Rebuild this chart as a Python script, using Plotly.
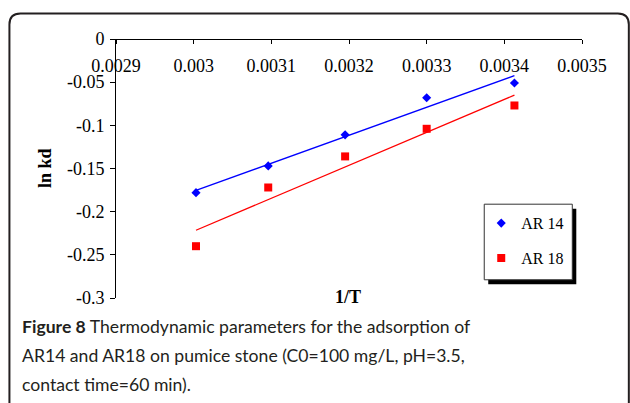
import plotly.graph_objects as go
import numpy as np

# ---------------- data ----------------
inv_T = [0.003003, 0.003096, 0.003195, 0.0033, 0.003413]
ln_kd_ar14 = [-0.178, -0.147, -0.111, -0.068, -0.051]
ln_kd_ar18 = [-0.240, -0.172, -0.136, -0.104, -0.077]
series_names = ["AR 14", "AR 18"]

x_ticks = [0.0029, 0.003, 0.0031, 0.0032, 0.0033, 0.0034, 0.0035]
x_tick_labels = ["0.0029", "0.003", "0.0031", "0.0032", "0.0033", "0.0034", "0.0035"]
y_ticks = [0, -0.05, -0.1, -0.15, -0.2, -0.25, -0.3]
y_tick_labels = ["0", "-0.05", "-0.1", "-0.15", "-0.2", "-0.25", "-0.3"]

caption_lines = [
    "<b>Figure 8</b> Thermodynamic parameters for the adsorption of",
    "AR14 and AR18 on pumice stone (C0=100 mg/L, pH=3.5,",
    "contact time=60 min).",
]

# ---------------- layout geometry (pixels) ----------------
W, H = 630, 403
L, R, T, B = 116, 581.7, 39, 297.7


def px(x):
    return (x - L) / (R - L)


def py(y):
    return (B - y) / (B - T)


serif = "Liberation Serif, Times New Roman, serif"

fig = go.Figure()

colors = ["#0000FF", "#FF0000"]
symbols = ["diamond", "square"]
sizes = [7, 8]
for i, (name, ys) in enumerate(zip(series_names, [ln_kd_ar14, ln_kd_ar18])):
    fig.add_trace(go.Scatter(
        x=inv_T, y=ys, mode="markers", name=name,
        legendgroup=name,
        marker=dict(color=colors[i], symbol=symbols[i], size=sizes[i],
                    line=dict(width=0)),
    ))
    slope, icpt = np.polyfit(inv_T, ys, 1)
    xl = [min(inv_T), max(inv_T)]
    fig.add_trace(go.Scatter(
        x=xl, y=[slope * v + icpt for v in xl], mode="lines",
        line=dict(color=colors[i], width=1.3), showlegend=False,
        hoverinfo="skip",
    ))

# outer rounded border
x0, y0, x1, y1, r = 9.5, 13.5, 628.5, 430, 11
path = (f"M {px(x0)},{py(y1)} L {px(x0)},{py(y0 + r)} "
        f"Q {px(x0)},{py(y0)} {px(x0 + r)},{py(y0)} "
        f"L {px(x1 - r)},{py(y0)} Q {px(x1)},{py(y0)} {px(x1)},{py(y0 + r)} "
        f"L {px(x1)},{py(y1)}")

shapes = [
    dict(type="path", xref="paper", yref="paper", path=path,
         line=dict(color="#231f20", width=2)),
    # legend shadow
    dict(type="rect", xref="paper", yref="paper",
         x0=px(488), x1=px(576), y0=py(208.5), y1=py(284),
         fillcolor="black", line=dict(width=0), layer="above"),
    # legend box
    dict(type="rect", xref="paper", yref="paper",
         x0=px(484), x1=px(572), y0=py(204), y1=py(279.5),
         fillcolor="white", line=dict(color="#333333", width=1), layer="above"),
]

annotations = [
    dict(text="<b>ln kd</b>", xref="paper", yref="paper", x=px(45), y=py(168),
         xanchor="center", yanchor="middle",
         showarrow=False, textangle=-90, font=dict(family=serif, size=18, color="black")),
    dict(text="<b>1/T</b>", xref="paper", yref="paper", x=px(348), y=py(297),
         xanchor="center", yanchor="middle",
         showarrow=False, font=dict(family=serif, size=18, color="black")),
]
cap_y = [326, 355.5, 384.5]
for line, yy in zip(caption_lines, cap_y):
    annotations.append(dict(
        text=line, xref="paper", yref="paper", x=px(20), y=py(yy),
        xanchor="left", yanchor="middle", showarrow=False,
        font=dict(family="Lato, Noto Sans, sans-serif", size=17.6, color="#231f20")))

fig.update_layout(
    width=W, height=H,
    margin=dict(l=L, r=W - R, t=T, b=H - B, pad=0),
    paper_bgcolor="white", plot_bgcolor="white",
    showlegend=True,
    legend=dict(x=px(481), y=py(206), xanchor="left", yanchor="top",
                bgcolor="rgba(0,0,0,0)", borderwidth=0,
                font=dict(family=serif, size=16, color="black"),
                tracegroupgap=11, itemwidth=30),
    xaxis=dict(range=[0.0029, 0.0035], tickvals=x_ticks, ticktext=x_tick_labels,
               anchor="free", position=1, side="bottom",
               showline=True, linecolor="black", linewidth=1,
               ticks="outside", ticklen=4, tickcolor="black",
               ticklabelstandoff=6, showgrid=False, zeroline=False,
               tickfont=dict(family=serif, size=18, color="black")),
    yaxis=dict(range=[-0.3, 0], tickvals=y_ticks, ticktext=y_tick_labels,
               showline=True, linecolor="black", linewidth=1,
               ticks="outside", ticklen=5, tickcolor="black",
               ticklabelstandoff=2, showgrid=False, zeroline=False,
               tickfont=dict(family=serif, size=18, color="black")),
    shapes=shapes, annotations=annotations,
)

fig.write_html("out.html")
